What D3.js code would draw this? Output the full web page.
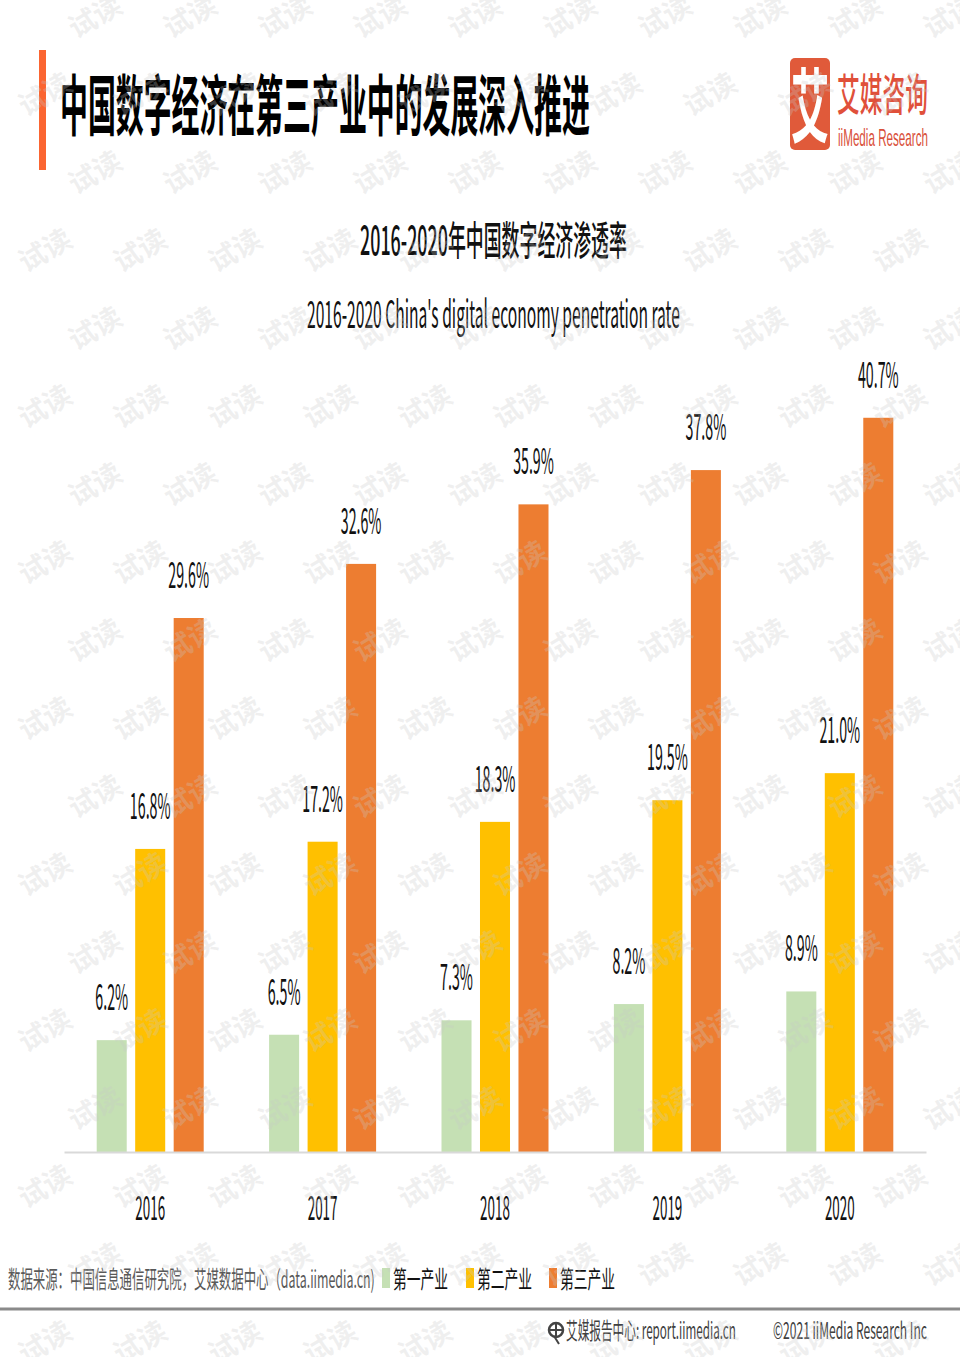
<!DOCTYPE html>
<html><head><meta charset="utf-8">
<script src="https://cdn.jsdelivr.net/npm/d3@7"></script>
<style>
html,body{margin:0;padding:0;background:#fff;}
svg{display:block;}
text{font-family:"Noto Sans CJK SC","Noto Sans",sans-serif;}
</style></head>
<body>
<svg id="chart" width="960" height="1357"></svg>
<script>
// ---- data ----
const years = ["2016", "2017", "2018", "2019", "2020"];
const seriesNames = ["第一产业", "第二产业", "第三产业"];
const primary = [6.2, 6.5, 7.3, 8.2, 8.9];
const secondary = [16.8, 17.2, 18.3, 19.5, 21.0];
const tertiary = [29.6, 32.6, 35.9, 37.8, 40.7];
const seriesColors = ["#c5e0b4", "#ffc000", "#ed7d31"];
const titleText = "中国数字经济在第三产业中的发展深入推进";
const subtitleCN = "2016-2020年中国数字经济渗透率";
const subtitleEN = "2016-2020 China's digital economy penetration rate";
const sourceText = "数据来源：中国信息通信研究院，艾媒数据中心（data.iimedia.cn)";

const seriesValues = [primary, secondary, tertiary];
const svg = d3.select("#chart");

// text drawn in a scaled group; if width is given, scale is fitted to it
function txt(parent, str, o) {
  const g = parent.append("g");
  const t = g.append("text").attr("x", 0).attr("y", 0)
    .attr("font-size", o.size).attr("fill", o.fill || "#000")
    .attr("font-weight", o.weight || 400)
    .attr("text-anchor", o.anchor || (o.width ? "start" : "middle")).text(str);
  if (o.family) t.style("font-family", o.family);
  let sx = o.sx || 0.4;
  if (o.width) sx = o.width / t.node().getComputedTextLength();
  g.attr("transform", `translate(${o.x},${o.y}) scale(${sx},${o.sy || 1})`);
  return g;
}

// ---- header ----
svg.append("rect").attr("x", 39).attr("y", 50).attr("width", 7).attr("height", 120).attr("fill", "#fb6531");
txt(svg, titleText, {x: 60, y: 130, size: 66, width: 530, weight: 700});

// logo
svg.append("rect").attr("x", 790).attr("y", 58).attr("width", 40).attr("height", 92).attr("rx", 5).attr("fill", "#e05a3a");
txt(svg, "艾", {x: 810, y: 136, size: 56, sx: 0.68, sy: 1.45, fill: "#fff", weight: 700});
txt(svg, "艾媒咨询", {x: 837, y: 111, size: 44, width: 91, fill: "#e0503a", weight: 500});
txt(svg, "iiMedia Research", {x: 838, y: 146, size: 24, width: 90, fill: "#d9503a", family: "'Liberation Sans', sans-serif"});

// subtitles
txt(svg, subtitleCN, {x: 360, y: 255, size: 40, width: 267, weight: 500, fill: "#111"});
txt(svg, subtitleEN, {x: 307, y: 328, size: 38, width: 373, fill: "#111"});

// ---- chart ----
const x0 = d3.scaleBand().domain(years).range([64, 926]).padding(0);
const x1 = d3.scaleBand().domain(seriesNames).range([-53.5, 53.5]).paddingInner(0.22);
const y = d3.scaleLinear().domain([0, 45]).range([1152, 1152 - 45 * 18.04]);

const groups = svg.append("g").selectAll("g").data(years).join("g")
  .attr("transform", d => `translate(${x0(d) + x0.bandwidth() / 2},0)`);

groups.each(function(yr, i) {
  const g = d3.select(this);
  seriesNames.forEach((s, k) => {
    const v = seriesValues[k][i];
    g.append("rect").attr("x", x1(s)).attr("width", x1.bandwidth())
      .attr("y", y(v)).attr("height", y(0) - y(v)).attr("fill", seriesColors[k]);
    txt(g, d3.format(".1f")(v) + "%", {x: x1(s) + x1.bandwidth() / 2, y: y(v) - 30, size: 36, sx: 0.395, fill: "#111"});
  });
});

// axis
const xAxis = d3.axisBottom(x0).tickSize(0).tickPadding(0);
const axG = svg.append("g").attr("transform", "translate(0,1152)").call(xAxis);
axG.select(".domain").attr("stroke", "#d9d9d9").attr("stroke-width", 2);
axG.selectAll(".tick text").remove();
axG.selectAll(".tick").each(function(d) {
  txt(d3.select(this), d, {x: 0, y: 68, size: 34, sx: 0.395, fill: "#111"});
});

// ---- footer ----
txt(svg, sourceText, {x: 8, y: 1288, size: 24, width: 367, fill: "#595959"});
const legendX = [382, 466, 549];
seriesNames.forEach((s, k) => {
  svg.append("rect").attr("x", legendX[k]).attr("y", 1268).attr("width", 8).attr("height", 20).attr("fill", seriesColors[k]);
  txt(svg, s, {x: legendX[k] + 11, y: 1288, size: 24, width: 55, fill: "#111"});
});

svg.append("line").attr("x1", 0).attr("x2", 960).attr("y1", 1309).attr("y2", 1309)
  .attr("stroke", "#8a8a8a").attr("stroke-width", 3);

// footer icon
const ic = svg.append("g").attr("transform", "translate(556,1330)");
ic.append("circle").attr("r", 7).attr("fill", "none").attr("stroke", "#444").attr("stroke-width", 2.5);
ic.append("path").attr("d", "M-7,0H7M0,-7V7M-2,6L3,14").attr("stroke", "#444").attr("stroke-width", 2).attr("fill", "none");
txt(svg, "艾媒报告中心: report.iimedia.cn", {x: 566, y: 1339, size: 23, width: 170, fill: "#404040"});
txt(svg, "©2021  iiMedia Research  Inc", {x: 773, y: 1339, size: 23, width: 154, fill: "#404040"});

// ---- watermark ----
const wm = svg.append("g").attr("pointer-events", "none");
for (let r = 0; r < 18; r++) {
  const yy = 15 + r * 78;
  const start = r % 2 === 0 ? 100 : 50;
  for (let xx = start; xx < 980; xx += 95) {
    wm.append("text").attr("transform", `translate(${xx},${yy + 10}) rotate(-30)`)
      .attr("text-anchor", "middle").attr("font-size", 28).attr("font-weight", 700)
      .attr("fill", "#c8c8c8").attr("fill-opacity", 0.28).text("试读");
  }
}
</script>
</body></html>
